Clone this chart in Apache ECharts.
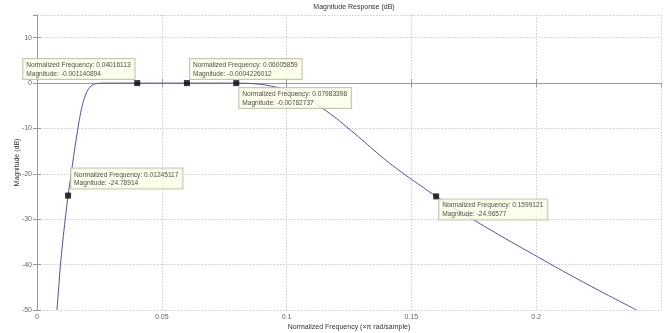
<!DOCTYPE html>
<html>
<head>
<meta charset="utf-8">
<script src="https://cdn.jsdelivr.net/npm/echarts@6/dist/echarts.min.js"></script>
<style>
  html, body { margin: 0; padding: 0; background: #fff; }
  #chart { width: 666px; height: 333px; }
</style>
</head>
<body>
<div id="chart"></div>
<script>
// Magnitude response of the band-pass filter (normalized frequency, dB)
const freq = [
  0.0080, 0.0087, 0.0094, 0.0103, 0.0113, 0.01245117, 0.0137, 0.0151, 0.0161, 0.0169,
  0.0177, 0.0186, 0.0196, 0.0206, 0.0216, 0.0226, 0.0236, 0.0250, 0.0280, 0.0320,
  0.04016113, 0.0500, 0.06005859, 0.0700, 0.07983398, 0.0850, 0.0900, 0.0950, 0.1000, 0.1050,
  0.1100, 0.1150, 0.1200, 0.1250, 0.1300, 0.1350, 0.1400, 0.1450, 0.1500, 0.1550,
  0.1599121, 0.1650, 0.1700, 0.1800, 0.1900, 0.2000, 0.2100, 0.2200, 0.2300, 0.2402
];
const magnitude = [
  -50, -45, -40, -35, -30, -24.78914, -20, -14.5, -11, -8.3,
  -6, -4, -2.4, -1.3, -0.65, -0.3, -0.12, -0.04, -0.01, -0.004,
  -0.001140894, -0.0008, -0.0004226012, -0.002, -0.00782737, -0.07, -0.3, -0.8, -1.5, -2.6,
  -4.0, -5.8, -7.8, -10.1, -12.4, -14.8, -17.1, -19.2, -21.2, -23.1,
  -24.96577, -26.8, -28.5, -31.8, -35.0, -38.1, -41.2, -44.2, -47.1, -50
];

// Data tips
const tipFreq = [0.04016113, 0.06005859, 0.07983398, 0.01245117, 0.1599121];
const tipMag = [-0.001140894, -0.0004226012, -0.00782737, -24.78914, -24.96577];

// Label box placement relative to each marker
const tipOffset = [[-111, -21], [6, -21], [6, 8], [6, -24], [6, 6]];

const xTicks = [0, 0.05, 0.1, 0.15, 0.2];

const chart = echarts.init(document.getElementById('chart'), null, { renderer: 'canvas' });

const FONT = 'Liberation Sans, Arial, sans-serif';
const gridLine = { show: true, lineStyle: { color: '#cccccc', type: [1.5, 1.5], width: 1 } };
const frame = { show: true, lineStyle: { color: '#9a9a9a', width: 1 } };
const innerTick = { show: true, inside: true, length: 4, lineStyle: { color: '#9a9a9a' } };

const tips = tipFreq.map((f, i) => ({
  value: [f, tipMag[i]],
  label: {
    show: true,
    position: tipOffset[i],
    formatter: 'Normalized Frequency: ' + String(f) + '\nMagnitude: ' + String(tipMag[i]),
    fontFamily: FONT,
    fontSize: 6.6,
    lineHeight: 8.5,
    color: '#222',
    backgroundColor: '#fdfde6',
    borderColor: '#b8b8a0',
    borderWidth: 1,
    padding: [2, 4, 1, 3],
    align: 'left',
    verticalAlign: 'top'
  }
}));

chart.setOption({
  animation: false,
  backgroundColor: '#ffffff',
  title: {
    text: 'Magnitude Response (dB)',
    left: 349, top: -1, textAlign: 'center',
    textStyle: { fontFamily: FONT, fontSize: 7, fontWeight: 'normal', color: '#333' }
  },
  grid: { left: 37, right: 5, top: 15, bottom: 23, show: false, containLabel: false, outerBoundsMode: 'none' },
  xAxis: [
    {
      type: 'value', min: 0, max: 0.25, interval: 0.05,
      axisLine: frame,
      axisTick: innerTick,
      axisLabel: {
        showMaxLabel: false, fontFamily: FONT, fontSize: 7, color: '#666', margin: 4,
        formatter: v => (xTicks.indexOf(Math.round(v * 100) / 100) >= 0 ? String(Math.round(v * 100) / 100) : '')
      },
      splitLine: gridLine,
      name: 'Normalized Frequency (\u00d7\u03c0 rad/sample)',
      nameLocation: 'middle', nameGap: 14, nameMoveOverlap: false,
      nameTextStyle: { fontFamily: FONT, fontSize: 7, color: '#333' }
    },
    {
      type: 'value', min: 0, max: 0.25, interval: 0.05, position: 'top',
      axisLine: frame, axisTick: innerTick,
      axisLabel: { show: false }, splitLine: { show: false }
    }
  ],
  yAxis: [
    {
      type: 'value', min: -50, max: 15, interval: 10,
      axisLine: frame,
      axisTick: innerTick,
      axisLabel: { showMaxLabel: false, fontFamily: FONT, fontSize: 7, color: '#666', margin: 5 },
      splitLine: gridLine,
      name: 'Magnitude (dB)',
      nameLocation: 'middle', nameGap: 16, nameRotate: 90, nameMoveOverlap: false,
      nameTextStyle: { fontFamily: FONT, fontSize: 7, color: '#333' }
    },
    {
      type: 'value', min: -50, max: 15, interval: 10, position: 'right',
      axisLine: frame, axisTick: innerTick,
      axisLabel: { show: false }, splitLine: { show: false }
    }
  ],
  series: [
    {
      type: 'line',
      data: freq.map((f, i) => [f, magnitude[i]]),
      showSymbol: false,
      smooth: 0.25,
      clip: true,
      lineStyle: { color: '#4f4fa0', width: 1 },
      z: 2
    },
    {
      type: 'scatter',
      data: tips,
      symbol: 'rect',
      symbolSize: 6,
      itemStyle: { color: '#000' },
      z: 5
    }
  ]
});
</script>
</body>
</html>
